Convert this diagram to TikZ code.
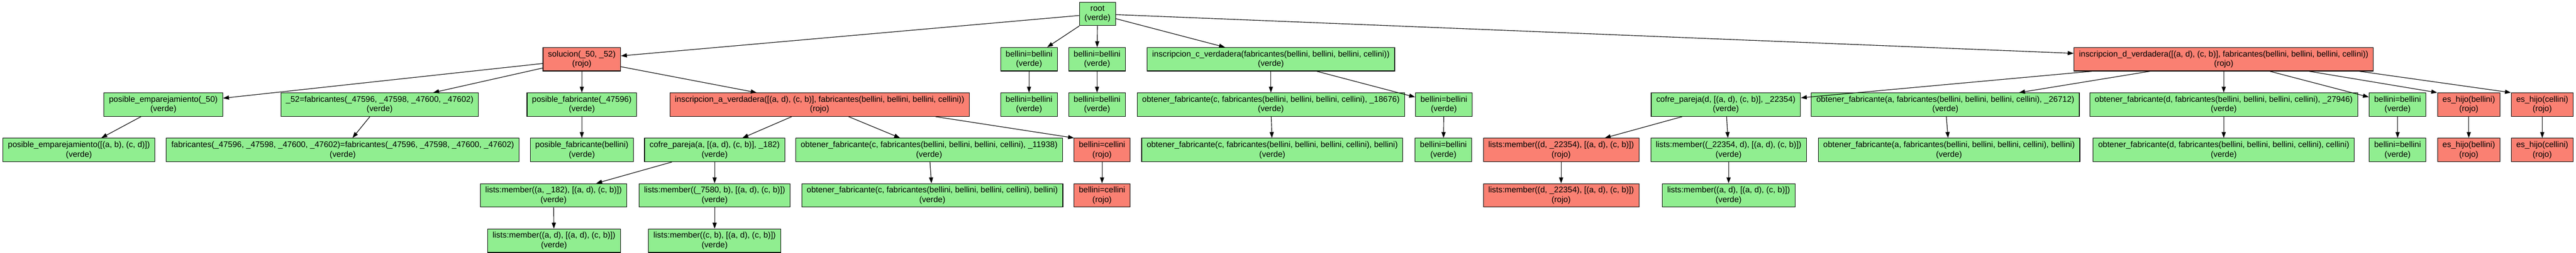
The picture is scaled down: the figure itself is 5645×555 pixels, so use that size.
\documentclass[tikz,border=0pt]{standalone}
\usepackage{fontspec}
\setmainfont{Liberation Sans}
\usetikzlibrary{arrows.meta}
\definecolor{lgreen}{HTML}{90EE90}
\definecolor{lsalmon}{HTML}{FA8072}
\newcommand{\gvfont}{\fontsize{18}{21}\selectfont}
\tikzset{
  gnode/.style={draw=black, line width=1.3pt, rectangle, align=center, font=\gvfont,
    inner xsep=11pt, inner ysep=2pt, minimum height=51.5pt, minimum width=69pt},
  verde/.style={gnode, fill=lgreen},
  rojo/.style={gnode, fill=lsalmon},
  conn/.style={line width=1.3pt, -{Triangle[length=13pt,width=9pt]}}
}
\begin{document}
\begin{tikzpicture}[x=1pt,y=1pt]
\useasboundingbox (0,0) rectangle (5645,-555);
% row 1
\node[verde] (root) at (2405,-30.5) {root\\(verde)};
% row 2
\node[rojo]  (sol)  at (1275,-130.1) {solucion(\_50, \_52)\\(rojo)};
\node[verde] (bb1)  at (2255,-130.1) {bellini=bellini\\(verde)};
\node[verde] (bb2)  at (2404,-130.1) {bellini=bellini\\(verde)};
\node[verde] (insC) at (2785,-130.1) {inscripcion\_c\_verdadera(fabricantes(bellini, bellini, bellini, cellini))\\(verde)};
\node[rojo]  (insD) at (4873,-130.1) {inscripcion\_d\_verdadera([(a, d), (c, b)], fabricantes(bellini, bellini, bellini, cellini))\\(rojo)};
% row 3
\node[verde] (pe50) at (358,-229.7) {posible\_emparejamiento(\_50)\\(verde)};
\node[verde] (fab52) at (832,-229.7) {\_52=fabricantes(\_47596, \_47598, \_47600, \_47602)\\(verde)};
\node[verde] (pf)   at (1275,-229.7) {posible\_fabricante(\_47596)\\(verde)};
\node[rojo]  (insA) at (1796,-229.7) {inscripcion\_a\_verdadera([(a, d), (c, b)], fabricantes(bellini, bellini, bellini, cellini))\\(rojo)};
\node[verde] (bb1b) at (2255,-229.7) {bellini=bellini\\(verde)};
\node[verde] (bb2b) at (2404,-229.7) {bellini=bellini\\(verde)};
\node[verde] (obtC1) at (2785,-229.7) {obtener\_fabricante(c, fabricantes(bellini, bellini, bellini, cellini), \_18676)\\(verde)};
\node[verde] (bb3)  at (3164,-229.7) {bellini=bellini\\(verde)};
\node[verde] (cofD) at (3782,-229.7) {cofre\_pareja(d, [(a, d), (c, b)], \_22354)\\(verde)};
\node[verde] (obtA) at (4263,-229.7) {obtener\_fabricante(a, fabricantes(bellini, bellini, bellini, cellini), \_26712)\\(verde)};
\node[verde] (obtD) at (4873,-229.7) {obtener\_fabricante(d, fabricantes(bellini, bellini, bellini, cellini), \_27946)\\(verde)};
\node[verde] (bb4)  at (5254,-229.7) {bellini=bellini\\(verde)};
\node[rojo]  (ehB)  at (5410,-229.7) {es\_hijo(bellini)\\(rojo)};
\node[rojo]  (ehC)  at (5571,-229.7) {es\_hijo(cellini)\\(rojo)};
% row 4
\node[verde] (peL)  at (173,-329.3) {posible\_emparejamiento([(a, b), (c, d)])\\(verde)};
\node[verde] (fabEq) at (751,-329.3) {fabricantes(\_47596, \_47598, \_47600, \_47602)=fabricantes(\_47596, \_47598, \_47600, \_47602)\\(verde)};
\node[verde] (pfB)  at (1275,-329.3) {posible\_fabricante(bellini)\\(verde)};
\node[verde] (cofA) at (1566,-329.3) {cofre\_pareja(a, [(a, d), (c, b)], \_182)\\(verde)};
\node[verde] (obtC2) at (2036,-329.3) {obtener\_fabricante(c, fabricantes(bellini, bellini, bellini, cellini), \_11938)\\(verde)};
\node[rojo]  (bc1)  at (2415,-329.3) {bellini=cellini\\(rojo)};
\node[verde] (obtC1b) at (2788,-329.3) {obtener\_fabricante(c, fabricantes(bellini, bellini, bellini, cellini), bellini)\\(verde)};
\node[verde] (bb3b) at (3163,-329.3) {bellini=bellini\\(verde)};
\node[rojo]  (lmD1) at (3421,-329.3) {lists:member((d, \_22354), [(a, d), (c, b)])\\(rojo)};
\node[verde] (lmX)  at (3788,-329.3) {lists:member((\_22354, d), [(a, d), (c, b)])\\(verde)};
\node[verde] (obtAb) at (4271,-329.3) {obtener\_fabricante(a, fabricantes(bellini, bellini, bellini, cellini), bellini)\\(verde)};
\node[verde] (obtDc) at (4873,-329.3) {obtener\_fabricante(d, fabricantes(bellini, bellini, bellini, cellini), cellini)\\(verde)};
\node[verde] (bb4b) at (5254,-329.3) {bellini=bellini\\(verde)};
\node[rojo]  (ehBb) at (5410,-329.3) {es\_hijo(bellini)\\(rojo)};
\node[rojo]  (ehCb) at (5571,-329.3) {es\_hijo(cellini)\\(rojo)};
% row 5
\node[verde] (lmA182) at (1213,-428.9) {lists:member((a, \_182), [(a, d), (c, b)])\\(verde)};
\node[verde] (lm7580) at (1566,-428.9) {lists:member((\_7580, b), [(a, d), (c, b)])\\(verde)};
\node[verde] (obtC2b) at (2043,-428.9) {obtener\_fabricante(c, fabricantes(bellini, bellini, bellini, cellini), bellini)\\(verde)};
\node[rojo]  (bc2)  at (2415,-428.9) {bellini=cellini\\(rojo)};
\node[rojo]  (lmD2) at (3421,-428.9) {lists:member((d, \_22354), [(a, d), (c, b)])\\(rojo)};
\node[verde] (lmAd) at (3788,-428.9) {lists:member((a, d), [(a, d), (c, b)])\\(verde)};
% row 6
\node[verde] (lmAd1) at (1214,-528.5) {lists:member((a, d), [(a, d), (c, b)])\\(verde)};
\node[verde] (lmCb)  at (1566,-528.5) {lists:member((c, b), [(a, d), (c, b)])\\(verde)};
% edges
\draw[conn] (root) -- (sol);
\draw[conn] (root) -- (bb1);
\draw[conn] (root) -- (bb2);
\draw[conn] (root) -- (insC);
\draw[conn] (root) -- (insD);
\draw[conn] (sol) -- (pe50);
\draw[conn] (sol) -- (fab52);
\draw[conn] (sol) -- (pf);
\draw[conn] (sol) -- (insA);
\draw[conn] (bb1) -- (bb1b);
\draw[conn] (bb2) -- (bb2b);
\draw[conn] (insC) -- (obtC1);
\draw[conn] (insC) -- (bb3);
\draw[conn] (insD) -- (cofD);
\draw[conn] (insD) -- (obtA);
\draw[conn] (insD) -- (obtD);
\draw[conn] (insD) -- (bb4);
\draw[conn] ([xshift=187pt]insD.south) -- (ehB.north west);
\draw[conn] ([xshift=297pt]insD.south) -- (ehC.north west);
\draw[conn] (pe50) -- (peL);
\draw[conn] (fab52) -- (fabEq);
\draw[conn] (pf) -- (pfB);
\draw[conn] (insA) -- (cofA);
\draw[conn] (insA) -- (obtC2);
\draw[conn] ([xshift=254pt]insA.south) -- ([xshift=1pt]bc1.north west);
\draw[conn] (obtC1) -- (obtC1b);
\draw[conn] (bb3) -- (bb3b);
\draw[conn] (cofD) -- (lmD1);
\draw[conn] (cofD) -- (lmX);
\draw[conn] (obtA) -- (obtAb);
\draw[conn] (obtD) -- (obtDc);
\draw[conn] (bb4) -- (bb4b);
\draw[conn] (ehB) -- (ehBb);
\draw[conn] (ehC) -- (ehCb);
\draw[conn] (cofA) -- (lmA182);
\draw[conn] (cofA) -- (lm7580);
\draw[conn] (obtC2) -- (obtC2b);
\draw[conn] (bc1) -- (bc2);
\draw[conn] (lmD1) -- (lmD2);
\draw[conn] (lmX) -- (lmAd);
\draw[conn] (lmA182) -- (lmAd1);
\draw[conn] (lm7580) -- (lmCb);
\end{tikzpicture}
\end{document}
